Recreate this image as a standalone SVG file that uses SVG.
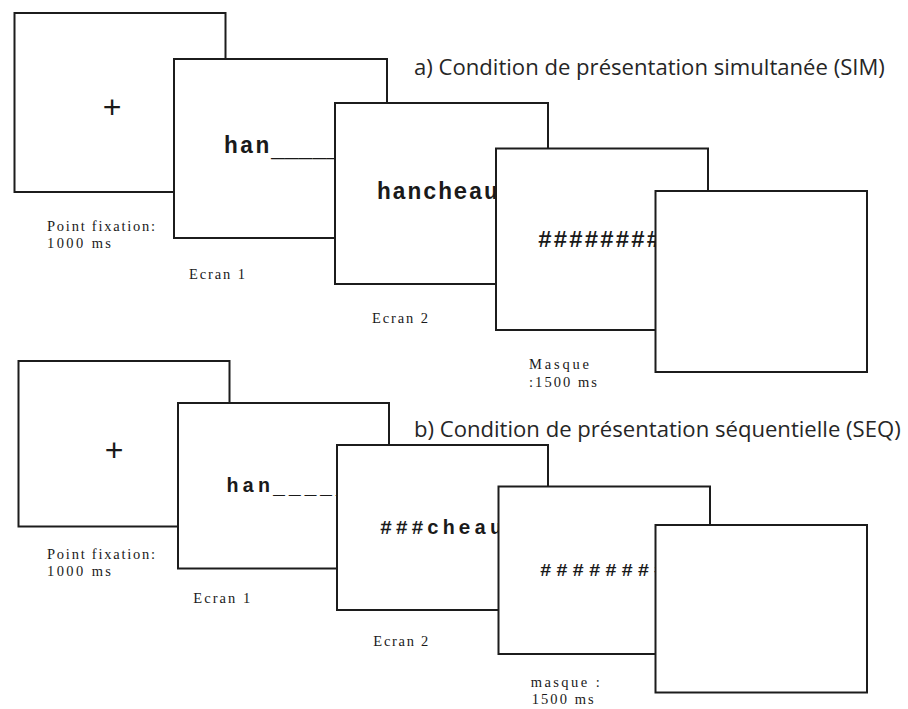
<svg xmlns="http://www.w3.org/2000/svg" width="908" height="709" viewBox="0 0 908 709">
<style>
.scr{fill:#fff;stroke:#1c1c1c;stroke-width:2}
.mono{font-family:"Liberation Mono","DejaVu Sans Mono",monospace;font-weight:bold;fill:#1a1a1a}
.lbl{font-family:"Liberation Serif","Times New Roman",serif;font-size:14.5px;fill:#1a1a1a}
.ttl{font-family:"Open Sans","Noto Sans","Liberation Sans",sans-serif;font-size:22.1px;fill:#262626}
.plus{font-family:"Liberation Sans",Arial,sans-serif;font-size:32px;fill:#1a1a1a;text-anchor:middle}
</style>
<rect width="908" height="709" fill="#fff"/>

<g id="titles">
<text class="ttl" x="414" y="75">a) Condition de présentation simultanée (SIM)</text>
<text class="ttl" x="414" y="437">b) Condition de présentation séquentielle (SEQ)</text>
</g>

<g id="sim-fixation">
<rect class="scr" x="14.5" y="13" width="211" height="179"/>
<text class="plus" x="112" y="118">+</text>
</g>
<g id="sim-ecran1">
<rect class="scr" x="174" y="59" width="213" height="179"/>
<text class="mono" x="224" y="153.3" font-size="23" letter-spacing="2">han</text>
<text class="mono" x="271" y="156.5" font-size="23">_______</text>
</g>
<g id="sim-ecran2">
<rect class="scr" x="335" y="103" width="213" height="181"/>
<text class="mono" x="377" y="199.3" font-size="23" letter-spacing="1.5">hancheau</text>
</g>
<g id="sim-masque">
<rect class="scr" x="496" y="148.5" width="212" height="181.5"/>
<text class="mono" x="538" y="246.5" font-size="23" letter-spacing="1.7">##########</text>
</g>
<g id="sim-ecran-vide">
<rect class="scr" x="655.5" y="191" width="211.5" height="181"/>
</g>

<g id="sim-labels">
<text class="lbl" x="47" y="231" textLength="108" lengthAdjust="spacing">Point fixation:</text>
<text class="lbl" x="47" y="248" textLength="64" lengthAdjust="spacing">1000 ms</text>
<text class="lbl" x="189" y="279" textLength="56" lengthAdjust="spacing">Ecran 1</text>
<text class="lbl" x="372" y="323.3" textLength="56" lengthAdjust="spacing">Ecran 2</text>
<text class="lbl" x="529" y="369" textLength="60" lengthAdjust="spacing">Masque</text>
<text class="lbl" x="529" y="386.5" textLength="68" lengthAdjust="spacing">:1500 ms</text>
</g>

<g id="seq-fixation">
<rect class="scr" x="18.5" y="361" width="211" height="165.5"/>
<text class="plus" x="114" y="460.5">+</text>
</g>
<g id="seq-ecran1">
<rect class="scr" x="178" y="403" width="211" height="165.5"/>
<text class="mono" x="226.5" y="491.7" font-size="20" letter-spacing="3.7">han</text>
<text class="mono" x="273" y="494" font-size="20" letter-spacing="3.7">______</text>
</g>
<g id="seq-ecran2">
<rect class="scr" x="337" y="445" width="211" height="165"/>
<text class="mono" x="380" y="534" font-size="20" letter-spacing="3.7">###cheau</text>
</g>
<g id="seq-masque">
<rect class="scr" x="498.5" y="486.5" width="211.5" height="167.5"/>
<text class="mono" x="540" y="576" font-size="19" letter-spacing="4.9">##########</text>
</g>
<g id="seq-ecran-vide">
<rect class="scr" x="655.5" y="525" width="211.5" height="167.5"/>
</g>

<g id="seq-labels">
<text class="lbl" x="47" y="559" textLength="108" lengthAdjust="spacing">Point fixation:</text>
<text class="lbl" x="47" y="575.5" textLength="64" lengthAdjust="spacing">1000 ms</text>
<text class="lbl" x="193.3" y="603.3" textLength="57" lengthAdjust="spacing">Ecran 1</text>
<text class="lbl" x="373.3" y="645.7" textLength="55" lengthAdjust="spacing">Ecran 2</text>
<text class="lbl" x="530.7" y="687" textLength="69" lengthAdjust="spacing">masque :</text>
<text class="lbl" x="531.7" y="703.5" textLength="62" lengthAdjust="spacing">1500 ms</text>
</g>
</svg>
